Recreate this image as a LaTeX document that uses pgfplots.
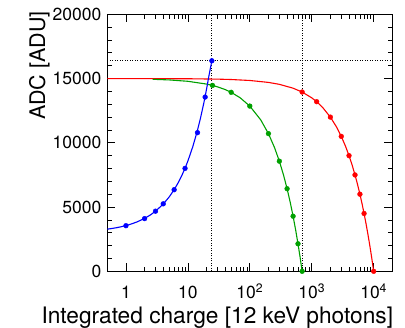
\documentclass[border=0pt]{standalone}
\usepackage{fontspec}
\setmainfont{TeX Gyre Heros}
\usepackage{pgfplots}
\pgfplotsset{compat=1.18}
\definecolor{rgreen}{RGB}{0,160,0}
\begin{document}
\begin{tikzpicture}
\begin{axis}[
  at={(107.3bp,56.7bp)}, anchor=south west,
  scale only axis, width=285bp, height=257bp,
  xmode=log, xmin=0.5, xmax=20000, ymin=0, ymax=20000,
  xtick={1,10,100,1000,10000},
  xticklabels={1,10,10\textsuperscript{2},10\textsuperscript{3},10\textsuperscript{4}},
  ytick={0,5000,10000,15000,20000},
  minor y tick num=4,
  scaled y ticks=false,
  /pgf/number format/1000 sep={},
  /pgf/number format/assume math mode=true,
  tick label style={font=\fontsize{17.5bp}{20bp}\selectfont},
  xticklabel style={anchor=base, yshift=-27bp},
  yticklabel style={anchor=east, xshift=-2.5bp},
  major tick length=8bp, minor tick length=4.5bp,
  tick style={black, line width=0.7bp},
  axis line style={line width=1bp},
  xlabel={Integrated charge [12 keV photons]},
  xlabel style={font=\fontsize{22.7bp}{25bp}\selectfont, at={(axis description cs:1.0035,-0.2023)}, anchor=base east, inner sep=0pt},
  clip=false,
]
% dotted guide lines
\addplot[black, line width=0.8bp, dash pattern=on 1bp off 1.5bp] coordinates {(0.5,16384) (20000,16384)};
\addplot[black, line width=0.8bp, dash pattern=on 1bp off 1.5bp] coordinates {(24.4,0) (24.4,20000)};
\addplot[black, line width=0.8bp, dash pattern=on 1bp off 1.5bp] coordinates {(700,0) (700,20000)};
% red
\addplot[red, line width=1.1bp, no marks] coordinates {
(0.5,15000) (10,14985) (30,14955) (50,14925) (100,14850) (200,14700) (300,14550) (500,14250)
(700,13950) (1000,13500) (1200,13200) (1500,12750) (2000,12000) (2500,11250) (3000,10500)
(3500,9750) (4000,9000) (4500,8250) (5000,7500) (5500,6750) (6000,6000) (6500,5250) (7000,4500)
(7500,3750) (8000,3000) (8500,2250) (9000,1500) (9500,750) (10000,0)};
\addplot[red, only marks, mark=*, mark size=2.4bp] coordinates {
(700,13950) (1200,13200) (2000,12000) (3000,10500) (4000,9000) (5000,7500) (6000,6000) (7000,4500) (10000,0)};
% green
\addplot[rgreen, line width=1.1bp, no marks] coordinates {
(2.7,14942) (5,14893) (10,14786) (20,14571) (25,14464) (30,14357) (40,14143) (50,13929)
(70,13500) (100,12857) (150,11786) (200,10714) (250,9643) (300,8571) (350,7500) (400,6429)
(450,5357) (500,4286) (550,3214) (600,2143) (650,1071) (700,0)};
\addplot[rgreen, only marks, mark=*, mark size=2.4bp] coordinates {
(25,14464) (50,13929) (100,12857) (200,10714) (300,8571) (400,6429) (500,4286) (600,2143) (700,0)};
% blue
\addplot[blue, line width=1.1bp, no marks] coordinates {
(0.5,3279) (0.6,3335) (0.7,3391) (0.8,3446) (1,3558) (1.2,3670) (1.5,3837) (2,4116) (2.5,4395)
(3,4674) (4,5232) (5,5790) (6,6348) (7,6906) (8,7464) (9,8022) (10,8580) (12,9696) (14,10812)
(16,11928) (18,13044) (20,14160) (22,15276) (24.4,16384)};
\addplot[blue, only marks, mark=*, mark size=2.4bp] coordinates {
(1,3550) (2,4100) (3,4680) (4,5250) (6,6350) (9,8010) (14.3,10790) (19,13560) (24.4,16384)};
\node[rotate=90, anchor=east, inner sep=0pt, font=\fontsize{21.5bp}{24bp}\selectfont] at (axis description cs:-0.2379,1.0128) {ADC [ADU]};
\end{axis}
\pgfresetboundingbox
\path (0,0) rectangle (405bp,328bp);
\end{tikzpicture}
\end{document}
